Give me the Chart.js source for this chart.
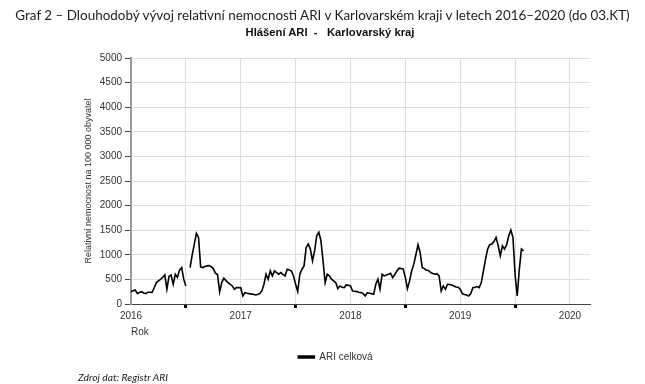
<!DOCTYPE html>
<html>
<head>
<meta charset="utf-8">
<script src="https://cdn.jsdelivr.net/npm/chart.js@4/dist/chart.umd.min.js"></script>
<style>
  html, body { margin: 0; padding: 0; background: #fff; }
  #wrap { position: relative; width: 645px; height: 384px; overflow: hidden; }
  #c { position: absolute; left: 0; top: 0; }
  .txt { position: absolute; white-space: pre; }
  #h1 { top: 7px; left: 0; width: 645px; text-align: center; font-family: Lato, "Open Sans", sans-serif; font-size: 15px; color: #1e1e1e; }
  #h2 { top: 26px; left: 0; width: 660px; text-align: center; font-family: "Liberation Sans", Arial, sans-serif; font-weight: bold; font-size: 12px; color: #111; }
  #src { top: 371px; left: 78px; font-family: Lato, "Open Sans", sans-serif; font-style: italic; font-size: 10.5px; color: #222; }
</style>
</head>
<body>
<div id="wrap">
  <canvas id="c" width="645" height="384"></canvas>
  <div id="h1" class="txt">Graf 2 – Dlouhodobý vývoj relativní nemocnosti ARI v Karlovarském kraji v letech 2016–2020 (do 03.KT)</div>
  <div id="h2" class="txt">Hlášení ARI  -   Karlovarský kraj</div>
  <div id="src" class="txt">Zdroj dat: Registr ARI</div>
</div>
<script>
// ---- data (weekly relative morbidity, per 100 000 inhabitants) ----
const seriesName = 'ARI celková';
const yearLabels = ['2016', '2017', '2018', '2019', '2020'];
const weeksPerYear = 52;
const weeklyValues = [
  251, 270, 285, 215, 235, 250, 225, 210, 240, 240,
  235, 330, 435, 470, 500, 540, 590, 300, 560, 590,
  400, 605, 540, 690, 741, 500, 367, null, 741, 1000,
  1218, 1435, 1354, 755, 741, 760, 775, 780, 760, 720,
  626, 600, 245, 435, 525, 475, 435, 400, 367, 300,
  333, 333, 330, 163, 231, 220, 211, 200, 197, 184,
  195, 211, 265, 401, 605, 503, 673, 571, 673, 640,
  605, 639, 600, 571, 707, 690, 673, 571, 400, 252,
  605, 707, 775, 1150, 1218, 1116, 877, 1082, 1388, 1456,
  1286, 877, 435, 605, 571, 503, 470, 435, 313, 367,
  340, 333, 388, 380, 367, 265, 260, 252, 240, 231,
  211, 163, 231, 220, 211, 197, 401, 503, 300, 605,
  571, 590, 605, 625, 537, 600, 673, 728, 720, 707,
  537, 313, 469, 673, 810, 1000, 1204, 1048, 741, 720,
  687, 680, 639, 620, 605, 615, 571, 265, 367, 300,
  401, 395, 388, 367, 347, 340, 300, 211, 195, 184,
  163, 211, 333, 340, 354, 333, 435, 673, 912, 1116,
  1204, 1218, 1271, 1354, 1184, 980, 1184, 1116, 1204, 1388,
  1503, 1350, 600, 163, 700, 1116, 1082
];
const yMax = 5000;
const yStep = 500;

// ---- fit header widths ----
function fitWidth(el, target) {
  const range = document.createRange();
  range.selectNodeContents(el);
  const w = range.getBoundingClientRect().width;
  const fs = parseFloat(getComputedStyle(el).fontSize);
  el.style.fontSize = (fs * target / w) + 'px';
}
fitWidth(document.getElementById('h1'), 615);
fitWidth(document.getElementById('h2'), 169);
fitWidth(document.getElementById('src'), 90);

const points = weeklyValues.map((v, i) => ({ x: i, y: v }));
const xMax = (yearLabels.length - 1) * weeksPerYear + 9.5;
const halfYearTicks = [];
for (let t = 0; t <= (yearLabels.length - 1) * weeksPerYear; t += weeksPerYear / 2) halfYearTicks.push(t);

new Chart(document.getElementById('c'), {
  type: 'line',
  data: {
    datasets: [{
      label: seriesName,
      data: points,
      borderColor: '#000',
      backgroundColor: '#000',
      borderWidth: 1.6,
      pointRadius: 0,
      tension: 0,
      spanGaps: false
    }]
  },
  options: {
    responsive: false,
    animation: false,
    layout: { padding: { left: 81, right: 55, top: 58, bottom: 12 } },
    plugins: {
      legend: {
        position: 'bottom',
        labels: {
          boxWidth: 16, boxHeight: 2, padding: 6,
          color: '#333',
          font: { family: '"Liberation Sans", Arial, sans-serif', size: 10 }
        }
      },
      tooltip: { enabled: false }
    },
    scales: {
      x: {
        type: 'linear',
        min: 0,
        max: xMax,
        afterBuildTicks: s => { s.ticks = halfYearTicks.map(v => ({ value: v })); },
        afterFit: s => { s.height = 42; },
        ticks: {
          autoSkip: false,
          maxRotation: 0,
          padding: 2,
          color: '#333',
          font: { family: '"Liberation Sans", Arial, sans-serif', size: 10 },
          callback: v => (v % weeksPerYear === 0 ? yearLabels[v / weeksPerYear] : '')
        },
        grid: {
          color: ctx => (ctx.tick && ctx.tick.value === 0 ? 'transparent' : '#dedede'),
          lineWidth: 1,
          drawTicks: true,
          tickLength: 4,
          tickWidth: 3,
          tickColor: ctx => (ctx.tick && ctx.tick.value % weeksPerYear !== 0 ? '#000' : 'transparent')
        },
        border: { color: '#444', width: 1 },
        title: {
          display: true,
          text: 'Rok',
          align: 'start',
          color: '#333',
          font: { family: '"Liberation Sans", Arial, sans-serif', size: 10 },
          padding: { top: 0, bottom: 8 }
        }
      },
      y: {
        min: 0,
        max: yMax,
        afterFit: s => { s.width = 50; },
        ticks: {
          stepSize: yStep,
          padding: 3,
          color: '#333',
          font: { family: '"Liberation Sans", Arial, sans-serif', size: 10 },
          callback: v => String(v)
        },
        grid: {
          color: ctx => (ctx.tick && ctx.tick.value === 0 ? 'transparent' : '#dedede'),
          tickColor: '#444',
          tickLength: 6
        },
        border: { color: '#999', width: 2 },
        title: {
          display: true,
          text: 'Relativní nemocnost na 100 000 obyvatel',
          color: '#333',
          font: { family: '"Liberation Sans", Arial, sans-serif', size: 9 },
          padding: { top: 2, bottom: 0 }
        }
      }
    }
  }
});
</script>
</body>
</html>
